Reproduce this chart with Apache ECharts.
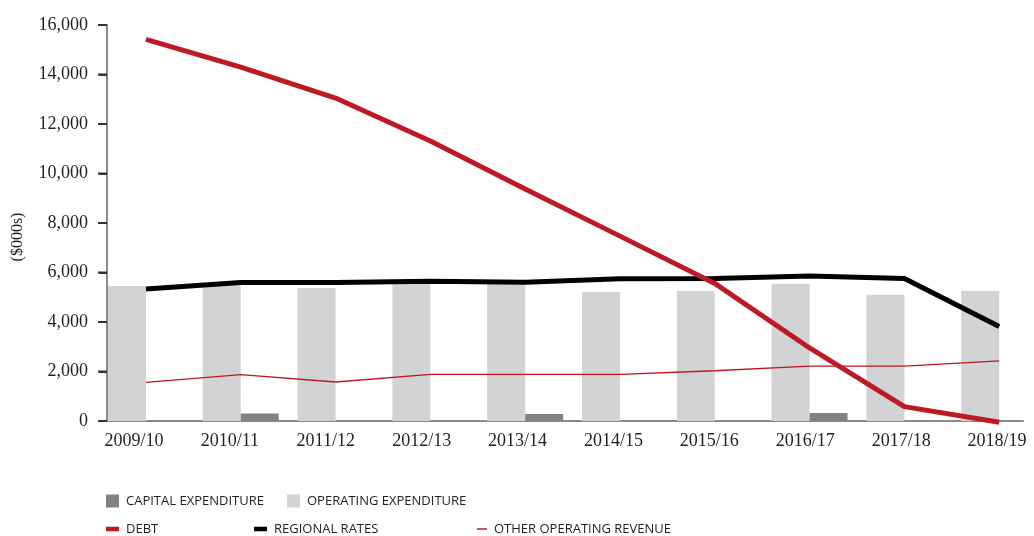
<!DOCTYPE html>
<html>
<head>
<meta charset="utf-8">
<script src="https://cdn.jsdelivr.net/npm/echarts@6/dist/echarts.min.js"></script>
<style>
html,body{margin:0;padding:0;background:#fff;}
#chart{width:1034px;height:536px;}
</style>
</head>
<body>
<div id="chart"></div>
<script>
var years = ['2009/10','2010/11','2011/12','2012/13','2013/14','2014/15','2015/16','2016/17','2017/18','2018/19'];
var capitalExpenditure = [0, 300, 0, 0, 280, 0, 0, 320, 0, 0];
var operatingExpenditure = [5450, 5530, 5370, 5560, 5560, 5210, 5250, 5550, 5100, 5250];
var debt = [15420, 14300, 13050, 11310, 9370, 7470, 5560, 2950, 580, -50];
var regionalRates = [5330, 5600, 5600, 5650, 5610, 5750, 5760, 5860, 5760, 3820];
var otherOperatingRevenue = [1560, 1870, 1575, 1880, 1880, 1880, 2030, 2220, 2220, 2430];
var yTicks = [0, 2000, 4000, 6000, 8000, 10000, 12000, 14000, 16000];

function pairs(arr){ return arr.map(function(v,i){ return [i, v]; }); }

var labelPos = years.map(function(y,i){ return -0.127 + 1.0116*i; });
var xMin = -0.411, xMax = 9.251;
var gridLeft = 107, gridTop = 25, gridBottom = 115, chartH = 536;

var serif = 'Liberation Serif';
var sans = 'Open Sans';
var txt = '#231f20';
var axisGray = '#8a8a8a';

var chart = echarts.init(document.getElementById('chart'));
function legendItem(name, left, top, w, h){
  return {
    data: [name], left: left, top: top, padding: 0,
    itemWidth: w, itemHeight: h, icon: 'rect',
    selectedMode: false,
    textStyle: {fontFamily: sans, fontSize: 13, color: txt, lineHeight: 14, padding: [0,0,0,2]}
  };
}
chart.setOption({
  animation: false,
  grid: {left: gridLeft, width: 916, top: gridTop, bottom: gridBottom, containLabel: false},
  legend: [
    legendItem('CAPITAL EXPENDITURE', 106, 494, 13, 13),
    legendItem('OPERATING EXPENDITURE', 287, 494, 13, 13),
    legendItem('DEBT', 106, 522, 13, 4.5),
    legendItem('REGIONAL RATES', 254, 522, 13, 4.5),
    legendItem('OTHER OPERATING REVENUE', 477, 522, 10, 1.5)
  ],
  xAxis: {
    type: 'value', min: xMin, max: xMax,
    axisLine: {show: true, onZero: false, lineStyle: {color: axisGray, width: 2}},
    axisTick: {show: false},
    splitLine: {show: false},
    axisLabel: {
      customValues: labelPos,
      formatter: function(v){ return years[Math.round(v)] || ''; },
      fontFamily: serif, fontSize: 18, color: txt, margin: 11
    }
  },
  yAxis: {
    type: 'value', min: 0, max: 16000, interval: 2000,
    axisLine: {show: true, onZero: false, lineStyle: {color: axisGray, width: 2}},
    axisTick: {show: true, length: 8, lineStyle: {color: '#333', width: 2}},
    splitLine: {show: false},
    axisLabel: {
      fontFamily: serif, fontSize: 18, color: txt, margin: 19,
      formatter: function(v){ return v.toLocaleString('en-US'); }
    }
  },
  series: [
    {name: 'OPERATING EXPENDITURE', type: 'bar', data: pairs(operatingExpenditure), barWidth: 38, barGap: '0%',
     itemStyle: {color: '#d1d3d4'}, z: 1},
    {name: 'CAPITAL EXPENDITURE', type: 'bar', data: pairs(capitalExpenditure), barWidth: 38, barGap: '0%',
     itemStyle: {color: '#808285'}, z: 1},
    {name: 'REGIONAL RATES', type: 'line', data: pairs(regionalRates), symbol: 'none', clip: false,
     lineStyle: {color: '#000', width: 5}, itemStyle: {color: '#000'}, z: 3},
    {name: 'DEBT', type: 'line', data: pairs(debt), symbol: 'none', clip: false,
     lineStyle: {color: '#bd1a24', width: 5}, itemStyle: {color: '#bd1a24'}, z: 4},
    {name: 'OTHER OPERATING REVENUE', type: 'line', data: pairs(otherOperatingRevenue), symbol: 'none', clip: false,
     lineStyle: {color: '#c0161f', width: 1.3}, itemStyle: {color: '#c0161f'}, z: 5}
  ]
});

// y-axis tick marks, positioned through the library's y scale
var gfx = [];
yTicks.forEach(function(v){
  var py = chart.convertToPixel({yAxisIndex: 0}, v);
  if (typeof py !== 'number' || !isFinite(py)) {
    var h = chartH - gridTop - gridBottom;
    py = gridTop + h * (1 - v / 16000);
  }
  gfx.push({type: 'line', shape: {x1: gridLeft - 9, y1: py, x2: gridLeft, y2: py},
            style: {stroke: '#333', lineWidth: 2}, silent: true, z: 100});
});
gfx.push({
  type: 'text', x: 18, y: 237, rotation: Math.PI/2,
  style: {text: '($000s)', fontFamily: serif, fontSize: 16, fill: txt, align: 'center', verticalAlign: 'middle'}
});
chart.setOption({graphic: {elements: gfx}});
</script>
</body>
</html>
